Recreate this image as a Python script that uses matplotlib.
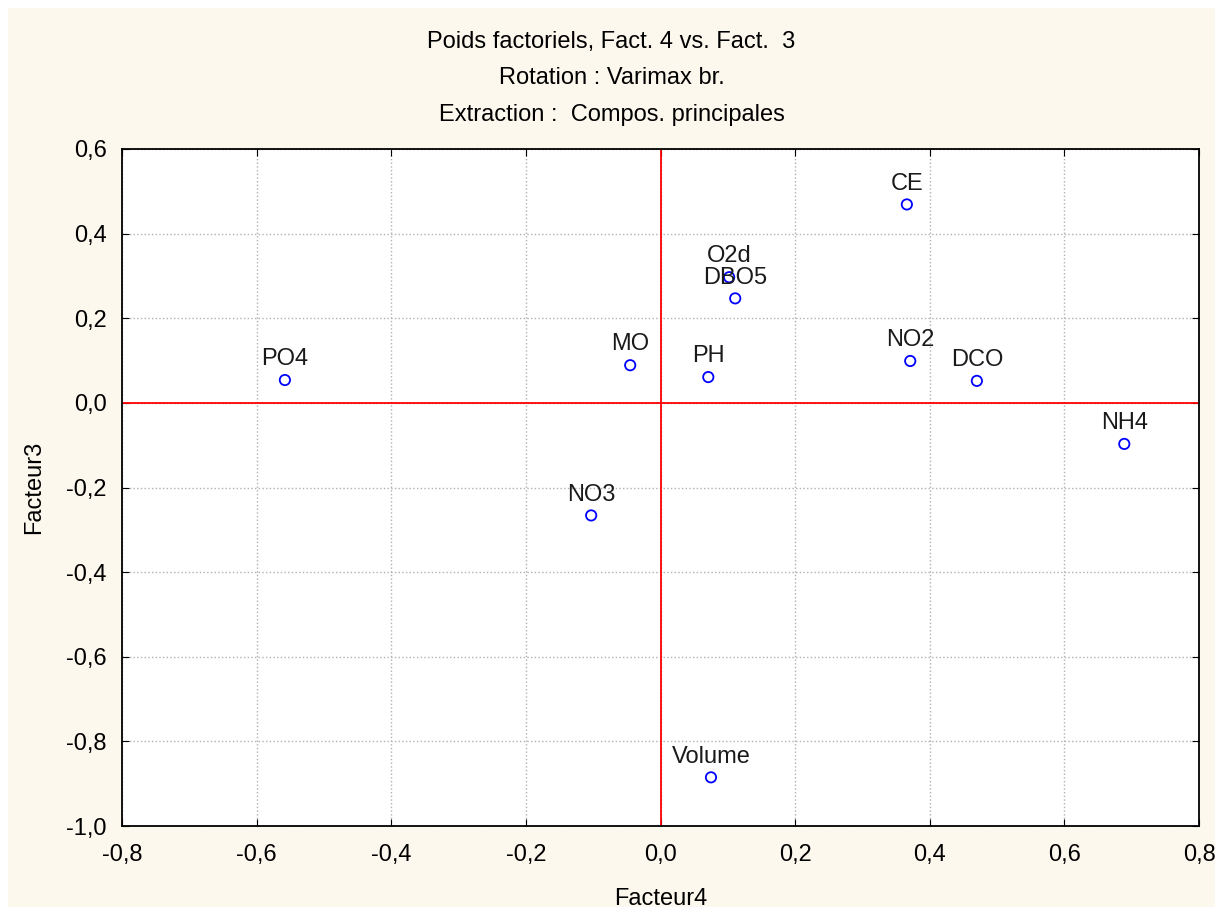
import matplotlib.pyplot as plt
from matplotlib.patches import Rectangle

# factor loadings
labels = ['PO4', 'MO', 'PH', 'O2d', 'DBO5', 'CE', 'NO2', 'DCO', 'NH4', 'NO3', 'Volume']
fact4 = [-0.558, -0.045, 0.071, 0.102, 0.111, 0.366, 0.371, 0.470, 0.689, -0.103, 0.075]
fact3 = [0.054, 0.089, 0.061, 0.297, 0.247, 0.469, 0.099, 0.052, -0.097, -0.266, -0.885]

xticks = [-0.8, -0.6, -0.4, -0.2, 0.0, 0.2, 0.4, 0.6, 0.8]
yticks = [-1.0, -0.8, -0.6, -0.4, -0.2, 0.0, 0.2, 0.4, 0.6]

plt.rcParams['font.family'] = ['Liberation Sans', 'DejaVu Sans']
FS = 17

fig = plt.figure(figsize=(12.23, 9.15), dpi=100, facecolor='white')
# cream panel behind everything
fig.patches.append(Rectangle((8 / 1223, 8 / 915), 1 - 16 / 1223, 1 - 16 / 915,
                             transform=fig.transFigure, facecolor='#fdf8ee',
                             edgecolor='none', zorder=-10))

ax = fig.add_axes([122 / 1223, 1 - 826 / 915, (1199 - 122) / 1223, (826 - 149) / 915])
ax.set_facecolor('white')

ax.scatter(fact4, fact3, s=55, facecolors='none', edgecolors='blue', linewidths=1.3, zorder=3)
for lab, x, y in zip(labels, fact4, fact3):
    ax.annotate(lab, (x, y), xytext=(0, 7), textcoords='offset points',
                ha='center', va='bottom', fontsize=FS, color='#1a1a1a', zorder=4)

ax.axhline(0, color='red', lw=1.3, zorder=2)
ax.axvline(0, color='red', lw=1.3, zorder=2)

ax.set_xlim(-0.8, 0.8)
ax.set_ylim(-1.0, 0.6)
ax.set_xticks(xticks)
ax.set_yticks(yticks)
ax.set_xticklabels([f'{t:.1f}'.replace('.', ',') for t in xticks])
ax.set_yticklabels([f'{t:.1f}'.replace('.', ',') for t in yticks])
ax.tick_params(direction='in', top=True, right=True, length=5, labelsize=FS)
ax.tick_params(axis='x', pad=13)
ax.tick_params(axis='y', pad=11)
ax.grid(True, color='#b0b0b0', linestyle=':', linewidth=1)
for sp in ax.spines.values():
    sp.set_linewidth(1.3)

ax.set_xlabel('Facteur4', fontsize=FS, labelpad=16)
ax.set_ylabel('Facteur3', fontsize=FS, labelpad=15)

fig.text(0.5, 1 - 42 / 915, 'Poids factoriels, Fact. 4 vs. Fact.  3', ha='center', va='center', fontsize=FS)
fig.text(0.5, 1 - 78 / 915, 'Rotation : Varimax br.', ha='center', va='center', fontsize=FS)
fig.text(0.5, 1 - 115 / 915, 'Extraction :  Compos. principales', ha='center', va='center', fontsize=FS)

fig.savefig('out.png', dpi=100)
